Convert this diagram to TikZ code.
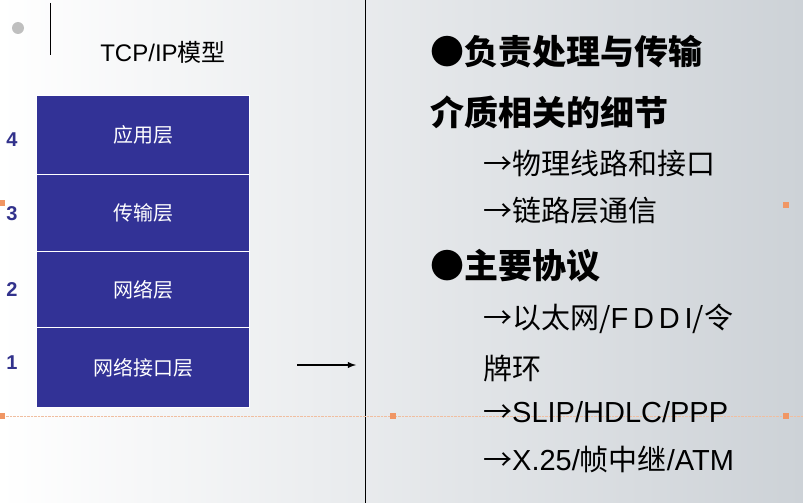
\documentclass[tikz,border=0pt]{standalone}
\usepackage{fontspec}
\setmainfont{Noto Sans CJK SC}
\newfontfamily\lsans{Liberation Sans}
\definecolor{layerblue}{RGB}{50,50,150}
\definecolor{numblue}{RGB}{50,50,140}
\definecolor{osqc}{RGB}{240,150,100}
\definecolor{dotc}{RGB}{240,190,160}
\definecolor{bgr}{RGB}{205,210,215}
\begin{document}
\begin{tikzpicture}[x=1pt,y=-1pt,
  layer/.style={fill=layerblue, draw=white, line width=1pt, minimum width=213pt, anchor=north west, inner sep=0pt, text=white, font=\fontsize{20}{20}\selectfont},
  num/.style={text=numblue, font=\lsans\bfseries\fontsize{20}{20}\selectfont},
  big/.style={anchor=west, inner sep=0pt, font=\bfseries\fontsize{34}{34}\selectfont},
  sub/.style={anchor=west, inner sep=0pt, font=\fontsize{29}{29}\selectfont},
  osq/.style={fill=osqc, minimum size=6pt, inner sep=0pt}]
\useasboundingbox (0,0) rectangle (803,503);
\shade[left color=white, right color=bgr] (0,0) rectangle (803,503);
\fill[gray!50] (18,28) circle (6);
\draw[black] (50,3) -- (50,55);
\draw[black] (365,0) -- (365,503);
\draw[densely dotted, dotc] (0,416) -- (803,416);
\node[osq] at (2,203) {}; \node[osq] at (786,205) {}; \node[osq] at (393,416) {};
\node[osq] at (786,416) {}; \node[osq] at (2,416) {};
\node (title) at (163,52) {\lsans\fontsize{24}{24}\selectfont TCP/IP\fontspec{Noto Sans CJK SC}模型};
\node[layer, minimum height=79pt] (l4) at (36,95) {应用层};
\node[layer, minimum height=77pt] (l3) at (36,174) {传输层};
\node[layer, minimum height=76pt] (l2) at (36,251) {网络层};
\node[layer, minimum height=80pt] (l1) at (36,327) {网络接口层};
\node[num] (n4) at (12,140) {4};
\node[num] (n3) at (12,214) {3};
\node[num] (n2) at (12,290) {2};
\node[num] (n1) at (12,363) {1};
\coordinate (a1) at (297,365); \coordinate (a2) at (356,365);
\draw[-latex, line width=1.8pt] (a1) -- (a2);
\node[big] (t1) at (430,52) {●负责处理与传输};
\node[big] (t2) at (430,112) {介质相关的细节};
\node[sub] (s1) at (483,163) {→物理线路和接口};
\node[sub] (s2) at (483,211) {→链路层通信};
\node[big] (t3) at (430,266) {●主要协议};
\node[sub] (s3) at (483,319) {→以太网/\lsans F\,D\,D\,I\fontspec{Noto Sans CJK SC}/令};
\node[sub] (s4) at (483,368) {牌环};
\node[sub] (s5) at (483,412) {→\lsans SLIP/HDLC/PPP};
\node[sub] (s6) at (483,459) {→\lsans X.25/\fontspec{Noto Sans CJK SC}帧中继\lsans/ATM};
\end{tikzpicture}
\end{document}
